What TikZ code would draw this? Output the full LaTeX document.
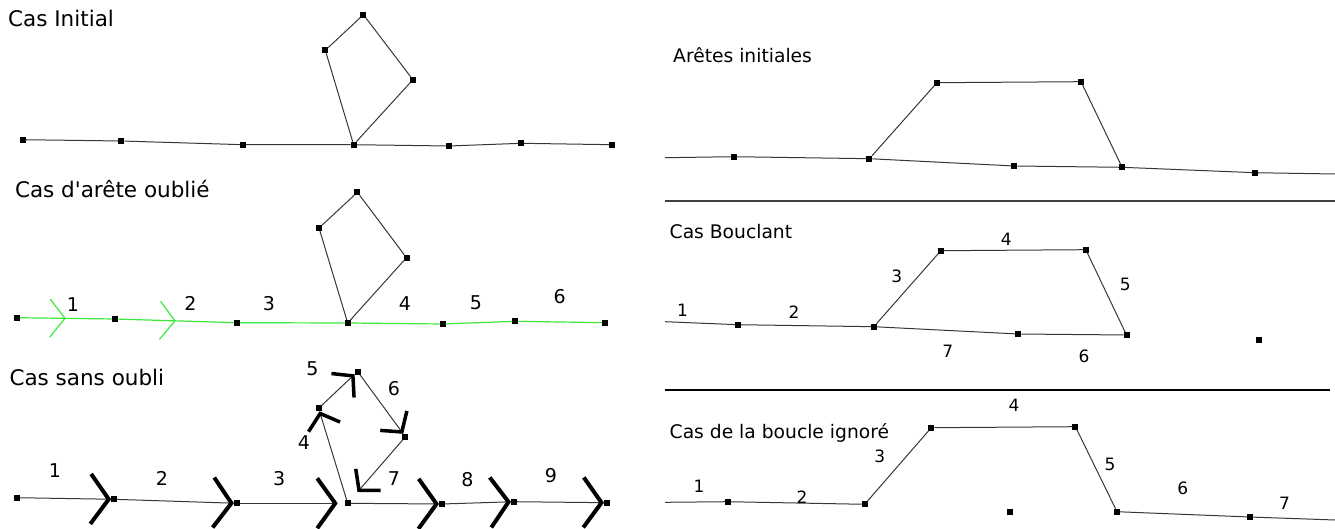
\documentclass[tikz,border=0pt]{standalone}
\usepackage{fontspec}
\setmainfont{DejaVu Sans}[Ligatures=TeXOff]
\usetikzlibrary{arrows.meta,decorations.markings}
\definecolor{vert}{RGB}{60,232,60}
\definecolor{trait}{RGB}{55,55,55}
\begin{document}
\begin{tikzpicture}[x=1pt,y=-1pt,
  pt/.style={fill=black,minimum size=6pt,inner sep=0pt,outer sep=0pt},
  seg/.style={trait,line width=1pt},
  vseg/.style={vert,line width=1.2pt},
  titre/.style={anchor=base west,inner sep=0pt,font=\fontsize{21.5}{24}\selectfont},
  titreb/.style={anchor=base west,inner sep=0pt,font=\fontsize{18.7}{22}\selectfont},
  num/.style={inner sep=0pt,font=\fontsize{19}{22}\selectfont},
  numb/.style={inner sep=0pt,font=\fontsize{17}{20}\selectfont},
  grand/.style={-{Straight Barb[length=18pt,width=50pt,line width=4pt,color=black]}},
  petit/.style={-{Straight Barb[length=14pt,width=33pt,line width=3.5pt,color=black]}},
  midbarb/.style={postaction={decorate},decoration={markings,
    mark=at position 0.5 with {\arrow{Straight Barb[length=15pt,width=38pt,line width=1.2pt]}}}}]
  \useasboundingbox (0,0) rectangle (1335,529);
  % cas initial
  \node[titre] (t1) at (8,26.7) {Cas Initial};
  \node[pt] (i1) at (22.8,139.7) {}; \node[pt] (i2) at (121.4,141) {};
  \node[pt] (i3) at (243.2,144.7) {}; \node[pt] (i4) at (353.6,144.7) {};
  \node[pt] (i5) at (448.8,146) {}; \node[pt] (i6) at (521.2,143.3) {};
  \node[pt] (i7) at (612,144.7) {};
  \node[pt] (i8) at (325.3,50.3) {}; \node[pt] (i9) at (363.4,14.7) {};
  \node[pt] (i10) at (412.9,79.7) {};
  \draw[seg] (i1)--(i2)--(i3)--(i4)--(i5)--(i6)--(i7);
  \draw[seg] (i4)--(i8)--(i9)--(i10)--(i4);
  % cas d'arete oublie, chemin en vert
  \node[titre] (t2) at (14.8,197.7) {Cas d'arête oublié};
  \node[pt] (o1) at (16.9,317.7) {}; \node[pt] (o2) at (114.6,319) {};
  \node[pt] (o3) at (236.9,322.7) {}; \node[pt] (o4) at (347.7,323) {};
  \node[pt] (o5) at (442.5,324) {}; \node[pt] (o6) at (515.2,321.3) {};
  \node[pt] (o7) at (605,322.7) {};
  \node[pt] (o8) at (319,228) {}; \node[pt] (o9) at (357.4,192.3) {};
  \node[pt] (o10) at (406.5,257.7) {};
  \draw[seg] (o4)--(o8)--(o9)--(o10)--(o4);
  \draw[vseg,midbarb] (o1)--(o2);
  \draw[vseg,midbarb] (o2)--(o3);
  \draw[vseg] (o3)--(o4)--(o5)--(o6)--(o7);
  \node[num] (n21) at (72.8,304.3) {1}; \node[num] (n22) at (190.4,303.3) {2};
  \node[num] (n23) at (269,303.3) {3}; \node[num] (n24) at (404.8,303.3) {4};
  \node[num] (n25) at (475.9,302.7) {5}; \node[num] (n26) at (559.6,296.7) {6};
  % cas sans oubli, toutes les aretes orientees
  \node[titre] (t3) at (9.3,385) {Cas sans oubli};
  \node[pt] (s1) at (16.9,497.7) {}; \node[pt] (s2) at (114.2,499.3) {};
  \node[pt] (s3) at (236.9,503.3) {}; \node[pt] (s4) at (347.7,503.3) {};
  \node[pt] (s5) at (442,504) {}; \node[pt] (s6) at (514,501.7) {};
  \node[pt] (s7) at (607,502.7) {};
  \node[pt] (s8) at (318.6,408.3) {}; \node[pt] (s9) at (357.6,371.5) {};
  \node[pt] (s10) at (405.4,436.8) {};
  \draw[seg,grand] (s1)--(s2);
  \draw[seg,grand] (s2)--(s3);
  \draw[seg,grand,shorten >=7pt] (s3)--(s4);
  \draw[seg,petit] (s4)--(s8);
  \draw[seg,petit] (s8)--(s9);
  \draw[seg,petit] (s9)--(s10);
  \draw[seg,petit,shorten >=11pt] (s10)--(s4);
  \draw[seg,grand] (s4)--(s5);
  \draw[seg,grand] (s5)--(s6);
  \draw[seg,grand] (s6)--(s7);
  \node[num] (n31) at (55,470.7) {1}; \node[num] (n32) at (162,478.3) {2};
  \node[num] (n33) at (279.2,478.3) {3}; \node[num] (n34) at (304,443) {4};
  \node[num] (n35) at (312.5,368.5) {5}; \node[num] (n36) at (394,388.5) {6};
  \node[num] (n37) at (394,478.3) {7}; \node[num] (n38) at (467.4,479.3) {8};
  \node[num] (n39) at (550.8,476) {9};
  % separateurs a droite
  \coordinate (h1) at (665,201); \coordinate (h2) at (1335,201);
  \coordinate (h3) at (665,390); \coordinate (h4) at (1330,390);
  \draw[black!75,line width=2pt] (h1)--(h2);
  \draw[black,line width=1.5pt] (h3)--(h4);
  % aretes initiales
  \node[titreb] (t4) at (673,62.7) {Arêtes initiales};
  \coordinate (a0) at (665.2,157.7); \coordinate (a8) at (1335,174);
  \node[pt] (a1) at (733.6,156.7) {}; \node[pt] (a2) at (869.4,158.7) {};
  \node[pt] (a3) at (1014.4,166) {}; \node[pt] (a4) at (1122.1,167.3) {};
  \node[pt] (a5) at (1255,172.7) {};
  \node[pt] (a6) at (936.9,82.7) {}; \node[pt] (a7) at (1081,81.7) {};
  \draw[seg] (a0)--(a1)--(a2)--(a3)--(a4)--(a5)--(a8);
  \draw[seg] (a2)--(a6)--(a7)--(a4);
  % cas bouclant
  \node[titreb] (t5) at (669.5,238.3) {Cas Bouclant};
  \coordinate (b0) at (665.2,321.7);
  \node[pt] (b1) at (737.9,324.7) {}; \node[pt] (b2) at (873.8,326.7) {};
  \node[pt] (b3) at (1018.3,334) {}; \node[pt] (b4) at (1126.5,335) {};
  \node[pt] (b5) at (1259.3,340) {};
  \node[pt] (b6) at (940.8,250.7) {}; \node[pt] (b7) at (1085.8,249.7) {};
  \draw[seg] (b0)--(b1)--(b2)--(b3)--(b4);
  \draw[seg] (b2)--(b6)--(b7)--(b4);
  \node[numb] (n51) at (682.5,310) {1}; \node[numb] (n52) at (794.1,311.7) {2};
  \node[numb] (n53) at (896.7,276) {3}; \node[numb] (n54) at (1006.2,239.3) {4};
  \node[numb] (n55) at (1125.2,284) {5}; \node[numb] (n56) at (1084,356) {6};
  \node[numb] (n57) at (947.8,351.7) {7};
  % cas de la boucle ignore
  \node[titreb] (t6) at (669.5,438.3) {Cas de la boucle ignoré};
  \coordinate (g0) at (665.2,502.3); \coordinate (g8) at (1335,520);
  \node[pt] (g1) at (727.9,501.7) {}; \node[pt] (g2) at (864.7,504.3) {};
  \node[pt] (g3) at (931.3,427.7) {}; \node[pt] (g4) at (1075.4,426.7) {};
  \node[pt] (g5) at (1117,511.7) {}; \node[pt] (g6) at (1249.8,517) {};
  \node[pt] (g7) at (1009.6,511.7) {};
  \draw[seg] (g0)--(g1)--(g2)--(g3)--(g4)--(g5)--(g6)--(g8);
  \node[numb] (n61) at (699,486.7) {1}; \node[numb] (n62) at (801.9,497.3) {2};
  \node[numb] (n63) at (879.8,456.7) {3}; \node[numb] (n64) at (1014,405) {4};
  \node[numb] (n65) at (1110,464) {5}; \node[numb] (n66) at (1182.7,488.3) {6};
  \node[numb] (n67) at (1284.4,503.3) {7};
\end{tikzpicture}
\end{document}
